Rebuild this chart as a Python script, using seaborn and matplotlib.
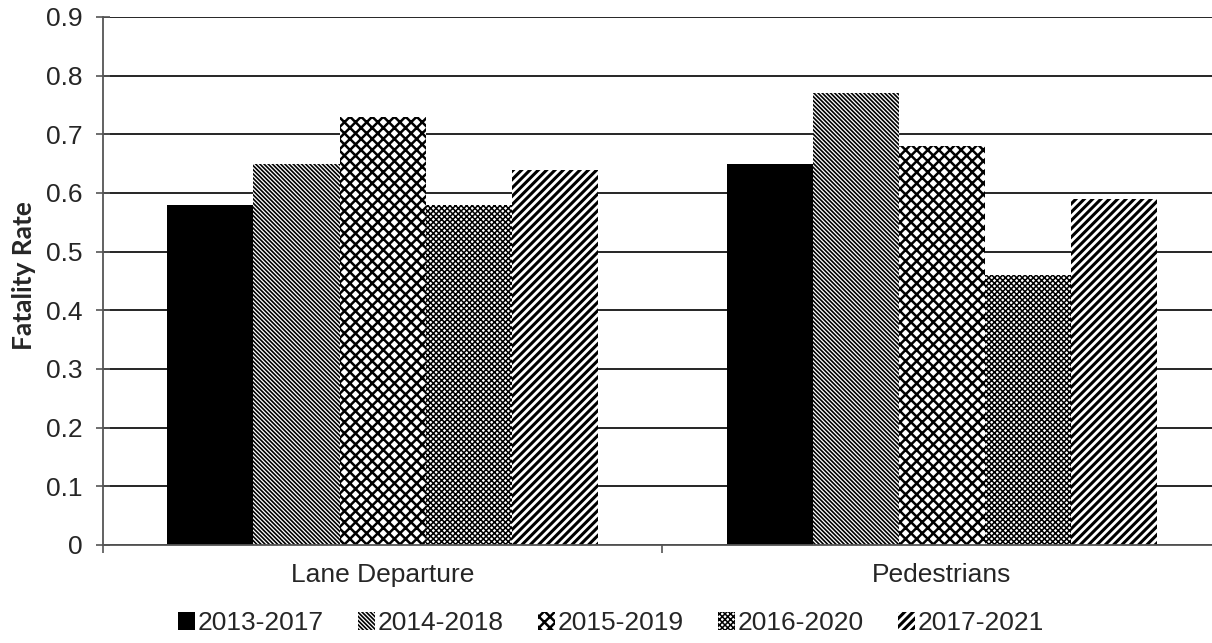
import numpy as np
import pandas as pd
import matplotlib
matplotlib.use("Agg")
import matplotlib.pyplot as plt
import seaborn as sns
from matplotlib.patches import Patch

categories = ["Lane Departure", "Pedestrians"]
periods = ["2013-2017", "2014-2018", "2015-2019", "2016-2020", "2017-2021"]
lane_departure = [0.58, 0.65, 0.73, 0.58, 0.64]
pedestrians = [0.65, 0.77, 0.68, 0.46, 0.59]
yticks = [0, 0.1, 0.2, 0.3, 0.4, 0.5, 0.6, 0.7, 0.8, 0.9]
ytick_labels = ["0", "0.1", "0.2", "0.3", "0.4", "0.5", "0.6", "0.7", "0.8", "0.9"]

rows = []
for cat, vals in zip(categories, [lane_departure, pedestrians]):
    for p, v in zip(periods, vals):
        rows.append({"cat": cat, "period": p, "val": v})
df = pd.DataFrame(rows)

sns.set_style("white")
plt.rcParams["font.family"] = ["Liberation Sans", "DejaVu Sans"]

hatches = [None, "\\" * 8, "xxx", "xxxxxx", "////"]
hatch_lw = [1.0, 1.2, 1.8, 1.1, 2.2]
faces = ["black", "white", "white", "white", "white"]


def apply_hatch_lw(artist, lw):
    if hasattr(artist, "set_hatch_linewidth"):
        artist.set_hatch_linewidth(lw)
    artist._hatch_linewidth = lw
    orig = artist.draw

    def draw(renderer, _orig=orig, _lw=lw):
        with plt.rc_context({"hatch.linewidth": _lw}):
            _orig(renderer)

    artist.draw = draw


fig = plt.figure(figsize=(12.12, 6.43), dpi=100)
ax = fig.add_axes([103 / 1212, (643 - 545) / 643, (1221.5 - 103) / 1212, (545 - 17) / 643])

sns.barplot(data=df, x="cat", y="val", hue="period", hue_order=periods, order=categories,
            palette=faces, width=0.77, gap=0, ax=ax, legend=False, saturation=1)

for i, cont in enumerate(ax.containers):
    for bar in cont:
        bar.set_edgecolor("black")
        bar.set_linewidth(0)
        bar.set_facecolor(faces[i])
        if hatches[i]:
            bar.set_hatch(hatches[i])
            apply_hatch_lw(bar, hatch_lw[i])

ax.set_ylim(0, 0.9)
ax.set_xlim(-0.5, 1.5)
ax.set_yticks(yticks)
ax.set_yticklabels(ytick_labels)
ax.yaxis.grid(True, color="black", linewidth=1.2)
ax.set_axisbelow(True)
for s in ["top", "right"]:
    ax.spines[s].set_visible(False)
for s in ["left", "bottom"]:
    ax.spines[s].set_color("#555555")
    ax.spines[s].set_linewidth(1.3)
ax.tick_params(axis="y", which="major", direction="inout", length=10, width=1.2,
               color="#555555", labelsize=19, pad=10, left=True)
ax.tick_params(axis="x", which="major", length=0, labelsize=19, pad=13)
ax.set_xticks([-0.5, 0.5, 1.5], minor=True)
ax.tick_params(axis="x", which="minor", direction="out", length=6, width=1.2, color="#555555", bottom=True)
ax.set_xlabel("")
ax.set_ylabel("Fatality Rate", fontsize=19, fontweight="bold", family="Lato", va="center")
ax.yaxis.set_label_coords((24 - 103) / 1118.5, (545 - 276) / 528)

handles = []
for i in range(5):
    h = Patch(facecolor=faces[i], edgecolor="black", hatch=hatches[i], linewidth=0)
    handles.append(h)
leg = fig.legend(handles, periods, loc="center", bbox_to_anchor=(611 / 1212, 0.031), ncol=5,
                 frameon=False, fontsize=19, handlelength=0.64, handleheight=0.64,
                 handletextpad=0.1, columnspacing=1.31, borderpad=0, borderaxespad=0)
for i, p in enumerate(leg.get_patches()):
    if hatches[i]:
        apply_hatch_lw(p, hatch_lw[i])

fig.savefig("out.png", dpi=100)
